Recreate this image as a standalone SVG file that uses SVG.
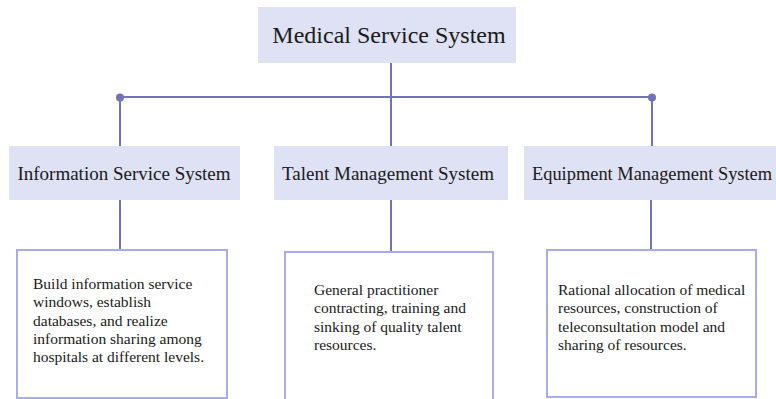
<svg xmlns="http://www.w3.org/2000/svg" width="776" height="399" viewBox="0 0 776 399">
<style>
.hdr{fill:#dfe1f5;stroke:none}
.box{fill:#ffffff;stroke:#a8acea;stroke-width:2}
.ln{stroke:#7074b6;stroke-width:2;fill:none}
.dot{fill:#7074b6}
.t1{font-size:24px}
.t2{font-size:19px}
.t3{font-size:15.5px}
</style>
<rect width="776" height="399" fill="#ffffff"/>
<g id="connectors">
<line class="ln" x1="391" y1="63" x2="391" y2="97"/>
<line class="ln" x1="120" y1="97" x2="652" y2="97"/>
<line class="ln" x1="120" y1="97" x2="120" y2="146"/>
<line class="ln" x1="652" y1="97" x2="652" y2="146"/>
<line class="ln" x1="391" y1="97" x2="391" y2="146"/>
<line class="ln" x1="120" y1="200" x2="120" y2="250"/>
<line class="ln" x1="391" y1="200" x2="391" y2="252"/>
<line class="ln" x1="651" y1="200" x2="651" y2="250"/>
<circle class="dot" cx="120" cy="97.5" r="4"/>
<circle class="dot" cx="652" cy="97.5" r="4"/>
</g>
<g font-family="Liberation Serif, serif" fill="#1a1a1a">
<g id="medical">
<rect class="hdr" x="258" y="7" width="258" height="56"/>
<text class="t1" x="389" y="43" text-anchor="middle">Medical Service System</text>
</g>
<g id="info">
<rect class="hdr" x="9" y="146" width="231" height="54"/>
<text class="t2" x="124" y="180" text-anchor="middle">Information Service System</text>
</g>
<g id="talent">
<rect class="hdr" x="274" y="146" width="234" height="54"/>
<text class="t2" x="388" y="180" text-anchor="middle">Talent Management System</text>
</g>
<g id="equipment">
<rect class="hdr" x="524" y="146" width="252" height="54"/>
<text x="532" y="180" font-size="18.4">Equipment Management System</text>
</g>
<g id="info-detail">
<rect class="box" x="17" y="250" width="210" height="148"/>
<text class="t3" x="33" y="289">Build information service</text>
<text class="t3" x="33" y="307.3">windows, establish</text>
<text class="t3" x="33" y="325.6">databases, and realize</text>
<text class="t3" x="33" y="343.9">information sharing among</text>
<text class="t3" x="33" y="362.2">hospitals at different levels.</text>
</g>
<g id="talent-detail">
<rect class="box" x="285" y="252" width="208" height="152"/>
<text class="t3" x="314" y="295">General practitioner</text>
<text class="t3" x="314" y="313.3">contracting, training and</text>
<text class="t3" x="314" y="331.6">sinking of quality talent</text>
<text class="t3" x="314" y="349.9">resources.</text>
</g>
<g id="equipment-detail">
<rect class="box" x="547" y="250" width="209" height="147"/>
<text class="t3" x="558" y="295">Rational allocation of medical</text>
<text class="t3" x="558" y="313.3">resources, construction of</text>
<text class="t3" x="558" y="331.6">teleconsultation model and</text>
<text class="t3" x="558" y="349.9">sharing of resources.</text>
</g>
</g>
</svg>
